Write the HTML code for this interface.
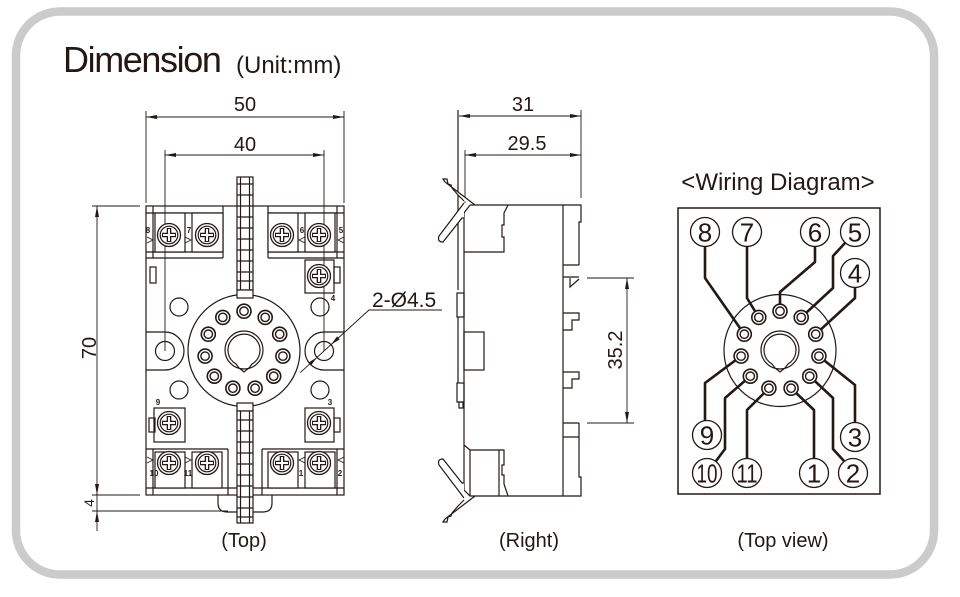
<!DOCTYPE html>
<html><head><meta charset="utf-8"><style>
html,body{margin:0;padding:0;background:#fff;}
svg{display:block;}
text{font-family:"Liberation Sans",Arial,sans-serif;fill:#231815;}
</style></head><body>
<svg width="960" height="597" viewBox="0 0 960 597" xmlns="http://www.w3.org/2000/svg">
<defs>
<g id="scr"><circle r="11.5" fill="#fff" stroke="#231815" stroke-width="1.3"/><circle r="8.8" fill="none" stroke="#231815" stroke-width="1.2"/><path d="M-7,0H7M0,-7V7" stroke="#231815" stroke-width="4.6"/><path d="M-6,0H6M0,-6V6" stroke="#fff" stroke-width="2"/></g>
<g id="pin"><circle r="7" fill="#fff" stroke="#231815" stroke-width="1.6"/><circle r="4.2" fill="#fff" stroke="#231815" stroke-width="1.4"/></g>
<g id="lc"><circle r="14.5" fill="#fff" stroke="#231815" stroke-width="1.3"/></g>
</defs>

<rect x="16" y="11.5" width="918" height="563" rx="44" fill="none" stroke="#cbcbcb" stroke-width="8.5"/>

<text x="63" y="72" font-size="36" letter-spacing="-1.4">Dimension</text>
<text x="236" y="73" font-size="24">(Unit:mm)</text>

<!-- TOP VIEW -->
<g stroke="#231815" stroke-width="0.9" fill="none">
  <path d="M146,117H344M146,111V203M344,111V203"/>
  <path d="M165,155H324M165,150V351M324,150V351"/>
  <path d="M97,206V531M92,206H140M92,495H140M92,511H228"/>
</g>
<g fill="#231815">
  <polygon points="146,117 157,115 157,119"/><polygon points="344,117 333,115 333,119"/>
  <polygon points="165,155 176,153 176,157"/><polygon points="324,155 313,153 313,157"/>
  <polygon points="97,206 95,217 99,217"/><polygon points="97,495 95,484 99,484"/>
  <polygon points="97,511 95,522 99,522"/>
</g>
<text x="245" y="111" font-size="20" text-anchor="middle">50</text>
<text x="245" y="151" font-size="20" text-anchor="middle">40</text>
<text transform="translate(89,348) rotate(-90)" font-size="20" text-anchor="middle" dy="7">70</text>
<text transform="translate(89,503) rotate(-90)" font-size="14" text-anchor="middle" dy="5">4</text>

<g stroke="#231815" stroke-width="1.2" fill="none">
  <rect x="146" y="206" width="198" height="289" fill="#fff"/>
  <path d="M146,213H223M268,213H344M146,252H223M268,252H344M146,258H223M268,258H344M153,206V258M223,206V258M268,206V258M337,206V258"/>
  <rect x="155" y="213" width="30" height="39" fill="#fff"/>
  <rect x="192" y="213" width="31" height="39" fill="#fff"/>
  <rect x="268" y="213" width="30" height="39" fill="#fff"/>
  <rect x="305" y="213" width="30" height="39" fill="#fff"/>
  <rect x="305" y="260" width="29" height="33" fill="#fff"/>
  <rect x="334" y="267" width="6" height="16"/>
  <rect x="150" y="267" width="6" height="16"/>
  <circle cx="179" cy="307" r="9"/><circle cx="320" cy="307" r="9"/>
  <circle cx="179" cy="390" r="9"/><circle cx="320" cy="390" r="9"/>
  <path d="M146,332H165A19,19 0 0 1 165,370H146"/>
  <path d="M344,332H324A19,19 0 0 0 324,370H344"/>
  <circle cx="165" cy="351" r="9.5"/><circle cx="324" cy="351" r="9.5"/>
  <circle cx="244" cy="350.5" r="56"/>
  <circle cx="244" cy="350" r="19"/>
  <path d="M236,364A16,16 0 1 1 252,364L249,368L244,372L239,368Z"/>
  <rect x="154" y="408" width="31" height="34" fill="#fff"/>
  <rect x="149" y="418" width="6" height="14"/>
  <rect x="305" y="408" width="29" height="34" fill="#fff"/>
  <rect x="334" y="418" width="6" height="14"/>
  <path d="M146,449H228M262,449H344M146,488H344M153,449V495M228,449V495M262,449V495M337,449V495"/>
  <rect x="155" y="452" width="30" height="36" fill="#fff"/>
  <rect x="192" y="452" width="30" height="36" fill="#fff"/>
  <rect x="268" y="452" width="30" height="36" fill="#fff"/>
  <rect x="305" y="452" width="30" height="36" fill="#fff"/>
  <path d="M218,495V503Q218,512 227,512H263Q272,512 272,503V495"/>
  <rect x="237" y="177" width="16" height="113" fill="#fff"/>
  <path d="M240.5,177V290M249.5,177V290M237,184H253M237,195H253M237,206H253M237,217H253M237,228H253M237,239H253M237,250H253M237,261H253M237,272H253M237,281H253"/>
  <rect x="237" y="290" width="16" height="8" fill="#fff"/>
  <rect x="237" y="403" width="16" height="8" fill="#fff"/>
  <rect x="237" y="411" width="16" height="112" fill="#fff"/>
  <path d="M240.5,411V523M249.5,411V523M237,420H253M237,431H253M237,442H253M237,453H253M237,464H253M237,475H253M237,486H253M237,497H253M237,508H253M237,517H253"/>
</g>
<path d="M165,206V351M324,206V351" stroke="#231815" stroke-width="0.9" fill="none"/>
<use href="#scr" x="169" y="235"/><use href="#scr" x="207" y="235"/><use href="#scr" x="282" y="235"/><use href="#scr" x="319" y="235"/>
<use href="#scr" x="319" y="276"/>
<use href="#scr" x="169" y="423"/><use href="#scr" x="319" y="423"/>
<use href="#scr" x="169" y="463"/><use href="#scr" x="207" y="463"/><use href="#scr" x="282" y="463"/><use href="#scr" x="319" y="463"/>
<use href="#pin" x="244" y="311.2"/><use href="#pin" x="265.2" y="317.4"/><use href="#pin" x="279.7" y="334.2"/>
<use href="#pin" x="282.9" y="356.1"/><use href="#pin" x="273.7" y="376.2"/><use href="#pin" x="255.1" y="388.2"/>
<use href="#pin" x="232.9" y="388.2"/><use href="#pin" x="214.3" y="376.2"/><use href="#pin" x="205.1" y="356.1"/>
<use href="#pin" x="208.3" y="334.2"/><use href="#pin" x="222.8" y="317.4"/>
<g font-size="8" font-weight="bold" text-anchor="middle">
  <text x="148" y="233">8</text><text x="189" y="233">7</text><text x="302" y="233">6</text><text x="341" y="233">5</text>
  <text x="333" y="301">4</text><text x="158" y="405">9</text><text x="330" y="405">3</text>
  <text x="154" y="476">10</text><text x="188" y="476">11</text><text x="301" y="476">1</text><text x="340" y="476">2</text>
</g>
<g stroke="#231815" stroke-width="0.8" fill="none">
  <path d="M147,237L153,240L147,243M185,237L191,240L185,243M305,237L299,240L305,243M344,237L338,240L344,243"/>
  <path d="M147,457L153,460L147,463M185,457L191,460L185,463M305,457L299,460L305,463M344,457L338,460L344,463"/>
</g>
<path d="M442,310H369L300.3,372.6" stroke="#231815" stroke-width="0.9" fill="none"/>
<polygon points="331,344.6 339.7,339.4 337.1,336.4" fill="#231815"/>
<polygon points="317,357.4 310.9,365.6 308.3,362.6" fill="#231815"/>
<text x="372" y="307" font-size="21">2-Ø4.5</text>
<text x="244" y="547" font-size="20" text-anchor="middle">(Top)</text>

<!-- RIGHT VIEW -->
<g stroke="#231815" stroke-width="0.9" fill="none">
  <path d="M459,116H581M465,155H581M581,110V198M465,150V203"/>
  <path d="M587,278H634M587,423H634M627,278V423"/>
</g>
<g fill="#231815">
  <polygon points="459,116 470,114 470,118"/><polygon points="581,116 570,114 570,118"/>
  <polygon points="465,155 476,153 476,157"/><polygon points="581,155 570,153 570,157"/>
  <polygon points="627,278 625,289 629,289"/><polygon points="627,423 625,412 629,412"/>
</g>
<text x="523" y="111" font-size="20" text-anchor="middle">31</text>
<text x="527" y="150" font-size="20" text-anchor="middle">29.5</text>
<text transform="translate(615,350) rotate(-90)" font-size="20" text-anchor="middle" dy="7">35.2</text>

<g stroke="#231815" stroke-width="1.2" fill="none">
  <path d="M470,205H581V222H579V265M464,213L470,205M464,213V490L470,496H581V477H579V423"/>
  <path d="M563,205V496"/>
  <path d="M563,265H579M563,277H579M570,278V287L579,279"/>
  <path d="M563,313H579V320H572V330H563"/>
  <path d="M563,372H579V379H572V388H563"/>
  <path d="M563,423H579M563,437H579"/>
  <path d="M464,252H504V237H502V225H504V213L508,205"/>
  <path d="M464,445L470,450H504V465H502V475H504V484L508,496M470,450V496M499,450V496"/>
  <rect x="464" y="332" width="20" height="38"/>
  <path d="M458,110V290M458,317V383"/>
  <rect x="457" y="293" width="7" height="24"/>
  <rect x="457" y="383" width="7" height="19"/>
  <rect x="459" y="402" width="4" height="6"/>
  <g id="clip">
    <path d="M475,205L445,182L443,179L447,179L448,184L451,185L452,188L458,195L464,201" fill="#fff"/>
    <path d="M464,203L439,236Q437,242 443,242L462,218L464,218" fill="#fff"/>
  </g>
  <use href="#clip" transform="matrix(1,0,0,-1,0,701)"/>
</g>
<text x="529" y="547" font-size="20" text-anchor="middle">(Right)</text>

<!-- WIRING -->
<text x="778" y="190" font-size="24" text-anchor="middle">&lt;Wiring Diagram&gt;</text>
<rect x="678" y="208" width="202" height="286" fill="none" stroke="#231815" stroke-width="1.5"/>
<g stroke="#231815" stroke-width="1.2" fill="none">
  <circle cx="780" cy="350.5" r="56"/>
  <circle cx="780" cy="350" r="19"/>
  <path d="M772,364A16,16 0 1 1 788,364L785,368L780,372L775,368Z"/>
</g>
<g stroke="#231815" stroke-width="2.6" fill="none" stroke-linejoin="round">
  <path d="M705,246L705,278L744.3,334.2"/>
  <path d="M747,246L747,298L758.8,317.4"/>
  <path d="M815,246L815,262L780,292L780,311"/>
  <path d="M845,243L833,256L833,288L801.2,317.4"/>
  <path d="M855,287L855,298L815.7,334.2"/>
  <path d="M741.1,356.1L705,383L705,421"/>
  <path d="M750.3,376.2L725,398L725,449L716,461"/>
  <path d="M768.9,388.2L747,410L747,459"/>
  <path d="M791.1,388.2L814,410L814,459"/>
  <path d="M809.7,376.2L833,398L833,449L844,461"/>
  <path d="M818.9,356.1L855,385L855,423"/>
</g>
<use href="#pin" x="780" y="311.2"/><use href="#pin" x="801.2" y="317.4"/><use href="#pin" x="815.7" y="334.2"/>
<use href="#pin" x="818.9" y="356.1"/><use href="#pin" x="809.7" y="376.2"/><use href="#pin" x="791.1" y="388.2"/>
<use href="#pin" x="768.9" y="388.2"/><use href="#pin" x="750.3" y="376.2"/><use href="#pin" x="741.1" y="356.1"/>
<use href="#pin" x="744.3" y="334.2"/><use href="#pin" x="758.8" y="317.4"/>
<use href="#lc" x="705" y="232"/><use href="#lc" x="747" y="232"/><use href="#lc" x="815" y="232"/><use href="#lc" x="855" y="232"/>
<use href="#lc" x="855" y="273"/><use href="#lc" x="855" y="437"/><use href="#lc" x="707" y="435"/>
<use href="#lc" x="707" y="473"/><use href="#lc" x="747" y="473"/><use href="#lc" x="814" y="473"/><use href="#lc" x="853" y="473"/>
<g font-size="26" text-anchor="middle">
  <text x="705" y="241.5">8</text><text x="747" y="241.5">7</text><text x="815" y="241.5">6</text><text x="855" y="241.5">5</text>
  <text x="855" y="282.5">4</text><text x="855" y="446.5">3</text><text x="707" y="444.5">9</text>
  <text x="707" y="482.5" textLength="21" lengthAdjust="spacingAndGlyphs">10</text>
  <text x="747" y="482.5" textLength="21" lengthAdjust="spacingAndGlyphs">11</text>
  <text x="814" y="482.5">1</text><text x="853" y="482.5">2</text>
</g>
<text x="783" y="547" font-size="20" text-anchor="middle">(Top view)</text>
</svg>
</body></html>
